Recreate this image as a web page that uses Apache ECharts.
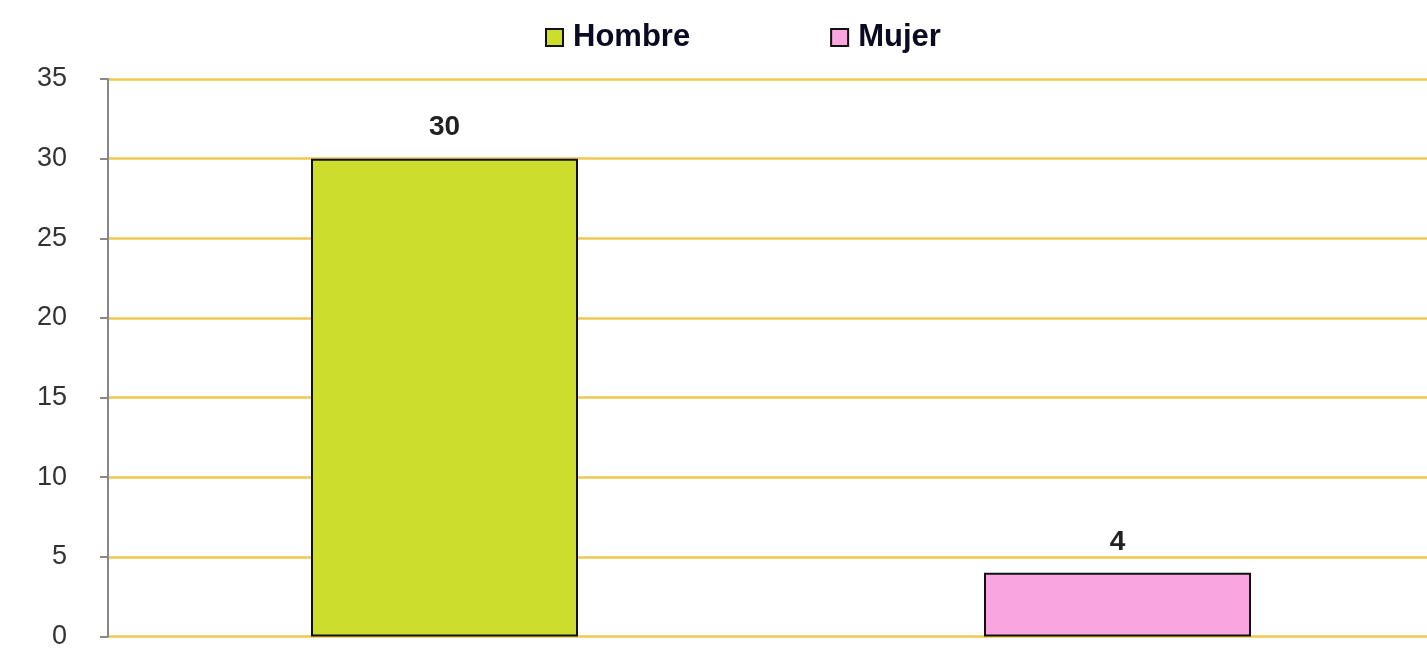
<!DOCTYPE html>
<html>
<head>
<meta charset="utf-8">
<script src="https://cdn.jsdelivr.net/npm/echarts@6/dist/echarts.min.js"></script>
<style>
  html, body { margin: 0; padding: 0; background: #fff; overflow: hidden; }
  /* el área de trazado sigue más allá del borde derecho */
  #chart { width: 1454px; height: 650px; }
</style>
</head>
<body>
<div id="chart"></div>
<script>
// datos
const categories = ['Hombre', 'Mujer']
const hombreValues = [30, '-']
const mujerValues = ['-', 4]
const yTicks = { min: 0, max: 35, interval: 5 }

const chart = echarts.init(document.getElementById('chart'))

const labelStyle = {
  show: true,
  position: 'top',
  distance: 17,
  color: '#222',
  fontSize: 28,
  fontWeight: 'bold',
  fontFamily: '"Liberation Sans", Arial, sans-serif'
}

const option = {
  animation: false,
  backgroundColor: '#fff',
  legend: {
    top: 17,
    left: 540,
    icon: 'rect',
    itemWidth: 17,
    itemHeight: 17,
    itemGap: 140,
    textStyle: {
      fontSize: 31,
      fontWeight: 'bold',
      color: '#0a0a22',
      padding: [0, 0, 0, 5],
      fontFamily: '"Liberation Sans", Arial, sans-serif'
    },
    data: categories
  },
  grid: {
    left: 108,
    right: 0,
    top: 79,
    bottom: 11,
    containLabel: false
  },
  xAxis: {
    type: 'category',
    data: categories,
    axisLine: { show: false },
    axisTick: { show: false },
    axisLabel: { show: false }
  },
  yAxis: {
    type: 'value',
    min: yTicks.min,
    max: yTicks.max,
    interval: yTicks.interval,
    axisLine: { show: true, lineStyle: { color: '#888', width: 2 } },
    axisTick: { show: true, length: 8, lineStyle: { color: '#888', width: 2 } },
    axisLabel: {
      margin: 41,
      fontSize: 27,
      color: '#333',
      fontFamily: '"Liberation Sans", Arial, sans-serif'
    },
    splitLine: { show: true, lineStyle: { color: '#f0c850', width: 2.5 } }
  },
  series: [
    {
      name: 'Hombre',
      type: 'bar',
      stack: 'total',
      barWidth: 267,
      data: hombreValues,
      itemStyle: { color: '#cddd2c', borderColor: '#111', borderWidth: 2 },
      label: labelStyle
    },
    {
      name: 'Mujer',
      type: 'bar',
      stack: 'total',
      barWidth: 267,
      data: mujerValues,
      itemStyle: { color: '#f9a6e0', borderColor: '#111', borderWidth: 2 },
      label: labelStyle
    }
  ]
}

chart.setOption(option)
</script>
</body>
</html>
